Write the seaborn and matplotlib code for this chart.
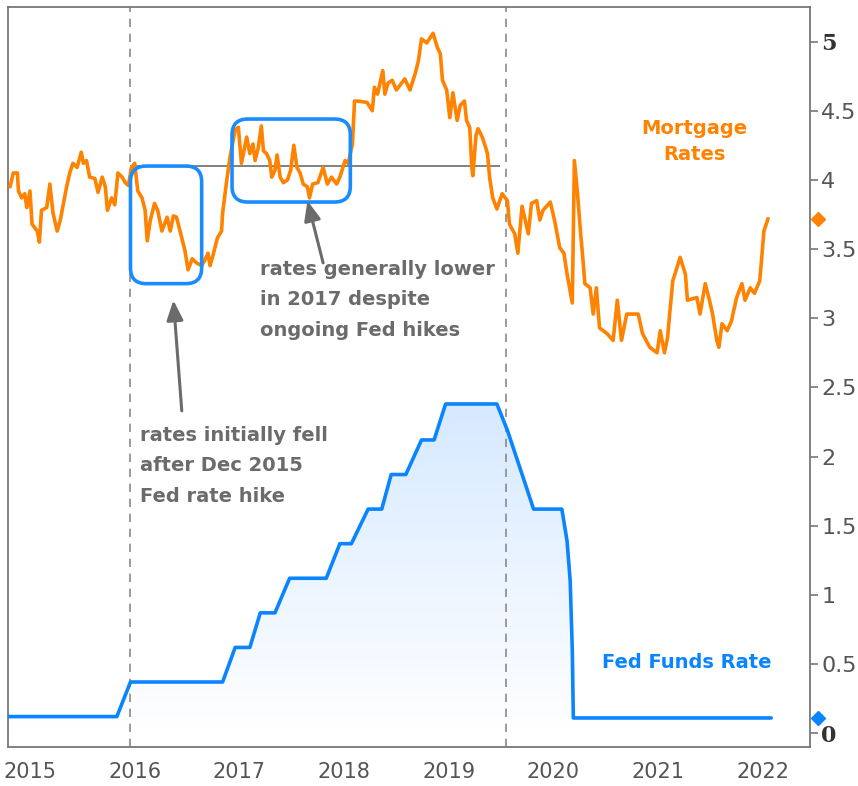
"""
Mortgage rates vs Fed Funds Rate, 2015-2022
"""

import numpy as np
import pandas as pd
import matplotlib
matplotlib.use('Agg')
import matplotlib.pyplot as plt
import seaborn as sns
from matplotlib.colors import LinearSegmentedColormap
from matplotlib.patches import FancyBboxPatch, Polygon
from matplotlib.transforms import blended_transform_factory

sns.set_style('white')
plt.rcParams['font.family'] = ['DejaVu Sans']

ORANGE = '#ff8200'
BLUE = '#0a84ff'
GRAY = '#6b6b6b'

# 30yr mortgage rate (decimal year, %)
mort_year = [
    2014.81, 2014.84, 2014.88, 2014.89, 2014.92, 2014.95, 2014.97, 2015.00, 2015.02, 2015.07,
    2015.09, 2015.11, 2015.16, 2015.19, 2015.22, 2015.26, 2015.29, 2015.32, 2015.35, 2015.38,
    2015.41, 2015.45, 2015.49, 2015.51, 2015.54, 2015.57, 2015.62, 2015.65, 2015.69, 2015.72,
    2015.74, 2015.78, 2015.81, 2015.84, 2015.88, 2015.91, 2015.94, 2015.97, 2016.00, 2016.03,
    2016.07, 2016.10, 2016.12, 2016.15, 2016.19, 2016.22, 2016.26, 2016.31, 2016.34, 2016.37,
    2016.40, 2016.45, 2016.48, 2016.51, 2016.55, 2016.59, 2016.64, 2016.67, 2016.70, 2016.72,
    2016.75, 2016.79, 2016.83, 2016.84, 2016.88, 2016.91, 2016.94, 2016.96, 2016.99, 2017.02,
    2017.07, 2017.10, 2017.13, 2017.15, 2017.18, 2017.21, 2017.23, 2017.26, 2017.29, 2017.31,
    2017.34, 2017.36, 2017.39, 2017.42, 2017.46, 2017.49, 2017.52, 2017.55, 2017.58, 2017.61,
    2017.65, 2017.67, 2017.70, 2017.75, 2017.80, 2017.84, 2017.88, 2017.93, 2017.96, 2018.01,
    2018.04, 2018.08, 2018.10, 2018.13, 2018.22, 2018.27, 2018.29, 2018.32, 2018.37, 2018.39,
    2018.42, 2018.46, 2018.50, 2018.55, 2018.58, 2018.63, 2018.68, 2018.71, 2018.74, 2018.79,
    2018.85, 2018.89, 2018.92, 2018.94, 2018.98, 2019.01, 2019.04, 2019.08, 2019.11, 2019.15,
    2019.17, 2019.20, 2019.22, 2019.23, 2019.26, 2019.28, 2019.32, 2019.35, 2019.37, 2019.39,
    2019.42, 2019.46, 2019.51, 2019.56, 2019.58, 2019.63, 2019.66, 2019.70, 2019.73, 2019.76,
    2019.79, 2019.84, 2019.87, 2019.90, 2019.97, 2020.01, 2020.06, 2020.10, 2020.13, 2020.18,
    2020.20, 2020.23, 2020.26, 2020.28, 2020.30, 2020.35, 2020.38, 2020.41, 2020.44, 2020.51,
    2020.57, 2020.61, 2020.65, 2020.70, 2020.81, 2020.85, 2020.92, 2020.99, 2021.02, 2021.06,
    2021.09, 2021.11, 2021.14, 2021.21, 2021.26, 2021.28, 2021.37, 2021.40, 2021.45, 2021.49,
    2021.52, 2021.56, 2021.58, 2021.61, 2021.66, 2021.70, 2021.75, 2021.80, 2021.83, 2021.88,
    2021.92, 2021.97, 2021.99, 2022.01, 2022.05,
]
mort_rate = [
    3.95, 4.05, 4.05, 3.92, 3.87, 3.90, 3.80, 3.92, 3.68, 3.63,
    3.55, 3.78, 3.80, 3.97, 3.76, 3.63, 3.71, 3.83, 3.95, 4.05,
    4.12, 4.09, 4.20, 4.12, 4.14, 4.02, 4.01, 3.91, 4.02, 3.95,
    3.78, 3.87, 3.82, 4.05, 4.02, 3.98, 3.96, 4.09, 4.12, 3.92,
    3.87, 3.78, 3.56, 3.71, 3.83, 3.78, 3.63, 3.73, 3.63, 3.74,
    3.73, 3.58, 3.49, 3.35, 3.43, 3.40, 3.38, 3.42, 3.47, 3.38,
    3.46, 3.58, 3.63, 3.76, 4.00, 4.16, 4.28, 4.36, 4.38, 4.12,
    4.31, 4.19, 4.26, 4.14, 4.23, 4.39, 4.21, 4.19, 4.14, 4.02,
    4.07, 4.18, 4.02, 3.98, 4.00, 4.07, 4.25, 4.09, 4.05, 3.97,
    3.95, 3.87, 3.97, 3.98, 4.09, 3.97, 4.02, 3.97, 4.02, 4.14,
    4.12, 4.26, 4.57, 4.57, 4.56, 4.50, 4.67, 4.62, 4.79, 4.62,
    4.70, 4.72, 4.65, 4.70, 4.73, 4.65, 4.77, 4.86, 5.02, 4.99,
    5.06, 4.96, 4.91, 4.72, 4.65, 4.45, 4.63, 4.43, 4.54, 4.57,
    4.43, 4.38, 4.09, 4.03, 4.32, 4.37, 4.31, 4.24, 4.19, 4.02,
    3.87, 3.79, 3.90, 3.85, 3.68, 3.61, 3.47, 3.81, 3.71, 3.61,
    3.83, 3.85, 3.71, 3.78, 3.84, 3.71, 3.51, 3.47, 3.32, 3.11,
    4.14, 3.90, 3.61, 3.44, 3.25, 3.22, 3.03, 3.22, 2.93, 2.89,
    2.84, 3.13, 2.84, 3.03, 3.03, 2.89, 2.79, 2.75, 2.91, 2.75,
    2.86, 3.03, 3.27, 3.44, 3.32, 3.13, 3.15, 3.03, 3.25, 3.13,
    3.03, 2.84, 2.79, 2.96, 2.91, 2.98, 3.15, 3.25, 3.13, 3.22,
    3.18, 3.27, 3.44, 3.63, 3.72,
]

# effective Fed Funds Rate (decimal year, %)
fed_year = [
    2014.79, 2015.83, 2015.96, 2016.84, 2016.96, 2017.10, 2017.20, 2017.34, 2017.48, 2017.83,
    2017.96, 2018.07, 2018.23, 2018.36, 2018.45, 2018.59, 2018.74, 2018.86, 2018.97, 2019.46,
    2019.56, 2019.71, 2019.81, 2020.08, 2020.13, 2020.16, 2020.18, 2020.19, 2022.08,
]
fed_rate = [
    0.12, 0.12, 0.37, 0.37, 0.62, 0.62, 0.87, 0.87, 1.12, 1.12,
    1.37, 1.37, 1.62, 1.62, 1.87, 1.87, 2.12, 2.12, 2.38, 2.38,
    2.19, 1.85, 1.62, 1.62, 1.39, 1.10, 0.60, 0.11, 0.11,
]

# events
hike_2015 = 2015.96
cut_2019 = 2019.55
ref_level = 4.10

mort = pd.DataFrame({'year': mort_year, 'rate': mort_rate})
fed = pd.DataFrame({'year': fed_year, 'rate': fed_rate})

fig = plt.figure(figsize=(8.58, 7.86), dpi=100)
ax = fig.add_axes([0.0093, 0.0496, 0.9347, 0.9415])

# gradient fill under fed funds
verts = list(zip(fed['year'], fed['rate']))
verts += [(fed['year'].iloc[-1], 0), (fed['year'].iloc[0], 0)]
clip = Polygon(verts, closed=True, facecolor='none', edgecolor='none')
ax.add_patch(clip)
cmap = LinearSegmentedColormap.from_list('fedfill', ['#ffffff', '#d6e9ff'])
grad = np.linspace(0, 1, 256).reshape(-1, 1)
im = ax.imshow(grad, cmap=cmap, aspect='auto', origin='lower',
               extent=[fed['year'].min(), fed['year'].max(), 0, fed['rate'].max()],
               zorder=1)
im.set_clip_path(clip)

sns.lineplot(data=fed, x='year', y='rate', ax=ax, color=BLUE, linewidth=2.6,
             estimator=None, sort=False, zorder=3)
sns.lineplot(data=mort, x='year', y='rate', ax=ax, color=ORANGE, linewidth=2.6,
             estimator=None, sort=False, zorder=3)

# reference lines
for xv in [hike_2015, cut_2019]:
    ax.axvline(xv, color='#8a8a8a', linestyle=(0, (5, 4)), linewidth=1.2, zorder=2)
ax.hlines(ref_level, hike_2015, 2019.49, color='#777777', linewidth=1.3, zorder=2)

# highlight boxes
for (x0, x1, y0, y1) in [(2015.96, 2016.64, 3.25, 4.10), (2016.93, 2018.06, 3.84, 4.44)]:
    box = FancyBboxPatch((x0, y0), x1 - x0, y1 - y0,
                         boxstyle='round,pad=0,rounding_size=0.15',
                         mutation_aspect=0.76, fill=False,
                         edgecolor='#1a8cff', linewidth=2.6, zorder=4)
    ax.add_patch(box)

# annotations
ann_kw = dict(fontsize=14, fontweight='bold', color=GRAY, ha='left', va='top',
              linespacing=1.75)
arrow_kw = dict(arrowstyle='-|>,head_length=1.2,head_width=0.5', color=GRAY, lw=2.2,
                shrinkA=0, shrinkB=0)
ax.annotate('', xy=(2016.37, 3.13), xytext=(2016.45, 2.33), arrowprops=arrow_kw, zorder=5)
ax.annotate('', xy=(2017.65, 3.85), xytext=(2017.80, 3.40), arrowprops=arrow_kw, zorder=5)
ax.text(2016.05, 2.22, 'rates initially fell\nafter Dec 2015\nFed rate hike', **ann_kw)
ax.text(2017.20, 3.42, 'rates generally lower\nin 2017 despite\nongoing Fed hikes', **ann_kw)

ax.text(2021.35, 4.28, 'Mortgage\nRates', fontsize=14, fontweight='bold', color=ORANGE,
        ha='center', va='center', linespacing=1.45)
ax.text(2021.27, 0.51, 'Fed Funds Rate', fontsize=14, fontweight='bold', color=BLUE,
        ha='center', va='center')

# last-value markers on right axis
trans = blended_transform_factory(ax.transAxes, ax.transData)
ax.plot([1.0095], [mort['rate'].iloc[-1]], marker='D', color=ORANGE, markersize=7,
        transform=trans, clip_on=False)
ax.plot([1.0095], [fed['rate'].iloc[-1]], marker='D', color=BLUE, markersize=7,
        transform=trans, clip_on=False)

# axes
ax.set_xlim(2014.79, 2022.45)
ax.set_ylim(-0.10, 5.25)
ax.set_xlabel('')
ax.set_ylabel('')
years = list(range(2015, 2023))
ax.set_xticks(years)
ax.set_xticklabels([str(y) for y in years])
yt = [i * 0.5 for i in range(11)]
ax.yaxis.tick_right()
ax.set_yticks(yt)
ax.set_yticklabels([f'{v:g}' for v in yt])
ax.tick_params(axis='x', direction='out', length=5, width=1.2, color='#777777',
               labelsize=15, labelcolor='#555555', pad=6)
ax.tick_params(axis='y', direction='out', length=6, width=1.2, color='#777777',
               labelsize=16, labelcolor='#555555', pad=2)
for lab in ax.get_yticklabels():
    if lab.get_text() in ('0', '5'):
        lab.set_fontfamily('DejaVu Serif')
        lab.set_fontweight('bold')
        lab.set_color('#333333')
for sp in ax.spines.values():
    sp.set_visible(True)
    sp.set_color('#777777')
    sp.set_linewidth(1.3)
ax.grid(False)

fig.savefig('out.png', dpi=100)
